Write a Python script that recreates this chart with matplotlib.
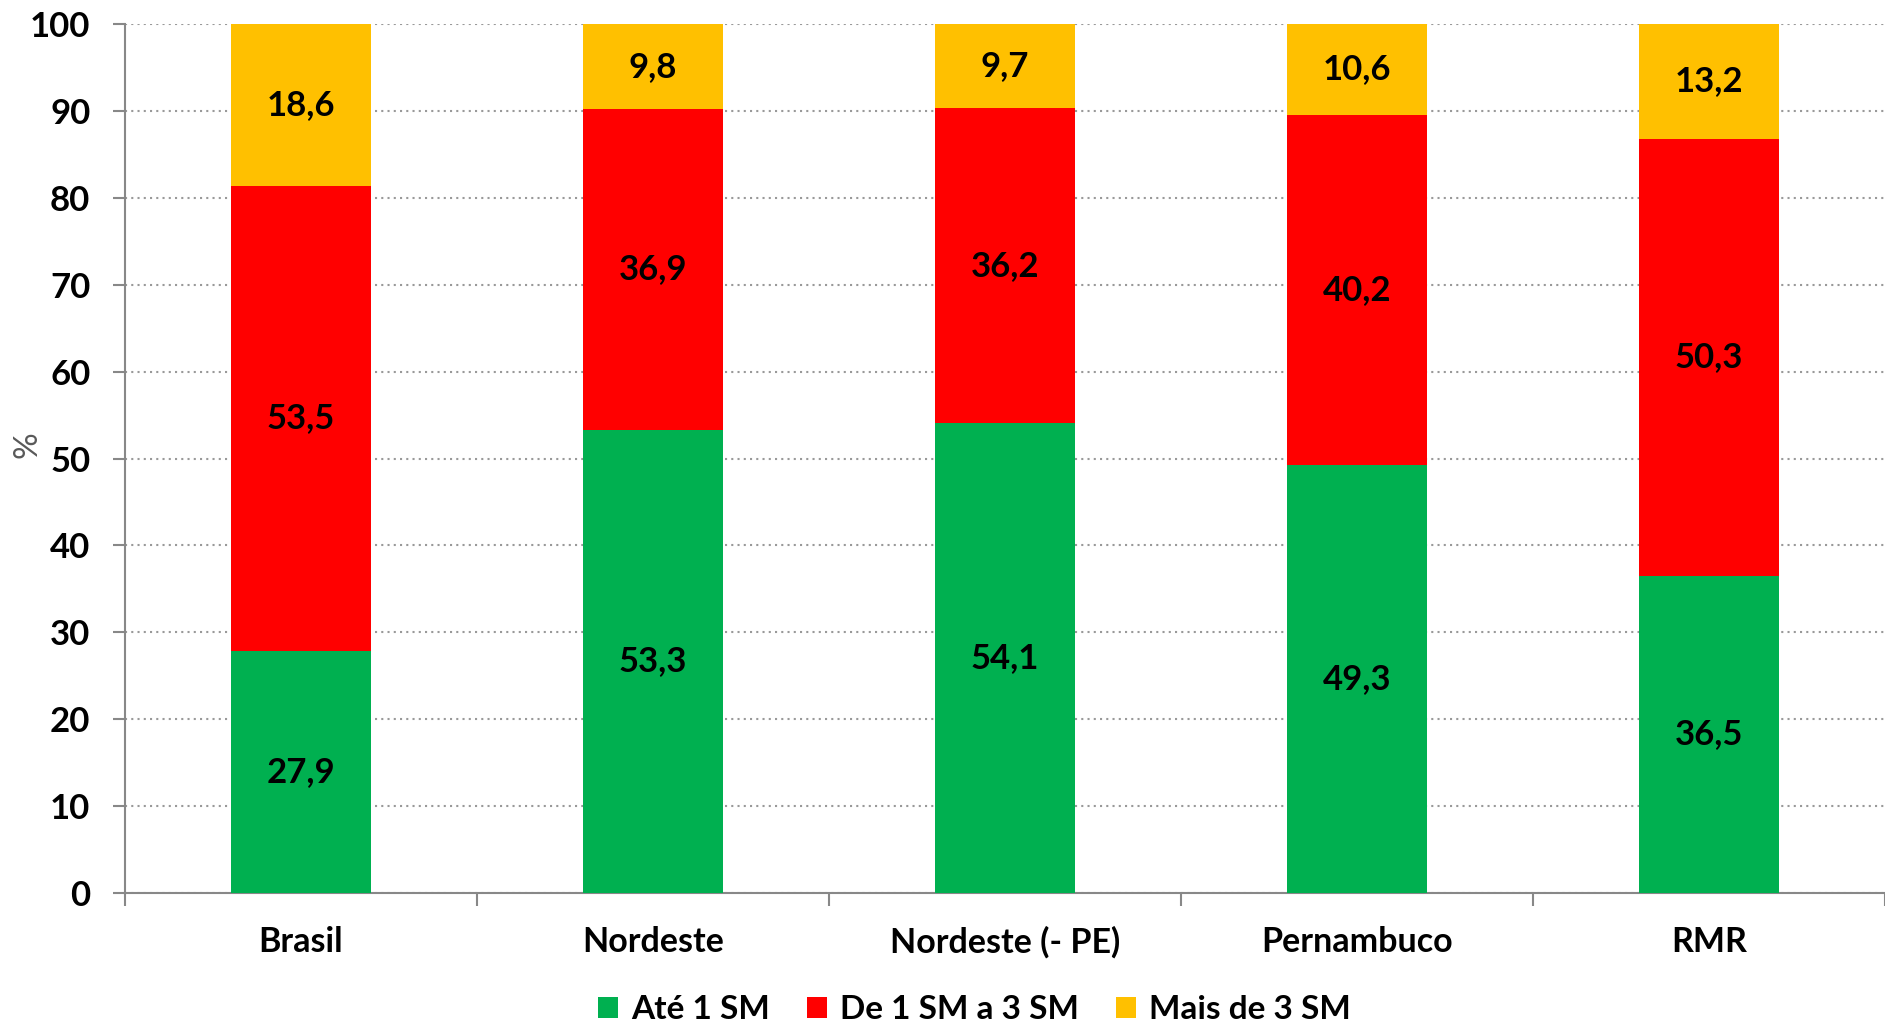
import matplotlib
matplotlib.use("Agg")
import matplotlib.pyplot as plt
import numpy as np
from matplotlib.patches import Patch

categories = ["Brasil", "Nordeste", "Nordeste (- PE)", "Pernambuco", "RMR"]
ate1 = [27.9, 53.3, 54.1, 49.3, 36.5]
de1a3 = [53.5, 36.9, 36.2, 40.2, 50.3]
mais3 = [18.6, 9.8, 9.7, 10.6, 13.2]
series_names = ["Até 1 SM", "De 1 SM a 3 SM", "Mais de 3 SM"]
colors = ["#00B050", "#FF0000", "#FFC000"]
yticks = list(range(0, 101, 10))

plt.rcParams['font.family'] = ['Lato', 'DejaVu Sans']

fig = plt.figure(figsize=(18.85, 10.23), dpi=100)
ax = fig.add_axes([0.0663, 0.127, 0.9337, 0.8495])

x = np.arange(len(categories))
bottom = np.zeros(len(categories))
for vals, col in zip([ate1, de1a3, mais3], colors):
    v = np.array(vals)
    ax.bar(x, v, width=0.4, bottom=bottom, color=col, zorder=3)
    for xi, b, h in zip(x, bottom, v):
        ax.text(xi, b + h / 2, f"{h:.1f}".replace(".", ","), ha="center", va="center",
                fontsize=25, fontweight="bold", color="black", zorder=4)
    bottom = bottom + v

ax.set_xlim(-0.5, len(categories) - 0.5)
ax.set_ylim(0, 100)
ax.set_yticks(yticks)
ax.set_yticklabels([str(t) for t in yticks], fontsize=25, fontweight="bold")
ax.yaxis.grid(True, linestyle=(0, (1, 2)), color="#999999", linewidth=1.5, zorder=0)
ax.set_axisbelow(True)

ax.set_xticks(x)
ax.set_xticklabels(categories, fontsize=24.5, fontweight="bold")
ax.set_xticks(np.arange(-0.5, len(categories), 1.0), minor=True)
ax.tick_params(axis="x", which="major", length=0, pad=24)
ax.tick_params(axis="x", which="minor", length=9, width=1.5, color="#888888", direction="out")
ax.tick_params(axis="y", length=9, width=1.5, color="#888888", pad=16)

for s in ["top", "right"]:
    ax.spines[s].set_visible(False)
for s in ["left", "bottom"]:
    ax.spines[s].set_color("#888888")
    ax.spines[s].set_linewidth(1.5)

fig.text(28 / 1885, 1 - 445 / 1023, "%", rotation=90, ha="center", va="center",
         fontsize=24, color="#595959")

handles = [Patch(facecolor=c, label=n) for c, n in zip(colors, series_names)]
fig.legend(handles=handles, loc="center", bbox_to_anchor=(0.517, 0.013), ncol=3,
           frameon=False, prop={"size": 24, "weight": "bold"},
           handlelength=0.6, handleheight=0.6, handletextpad=0.4, columnspacing=1.1)

fig.savefig("out.png", dpi=100)
